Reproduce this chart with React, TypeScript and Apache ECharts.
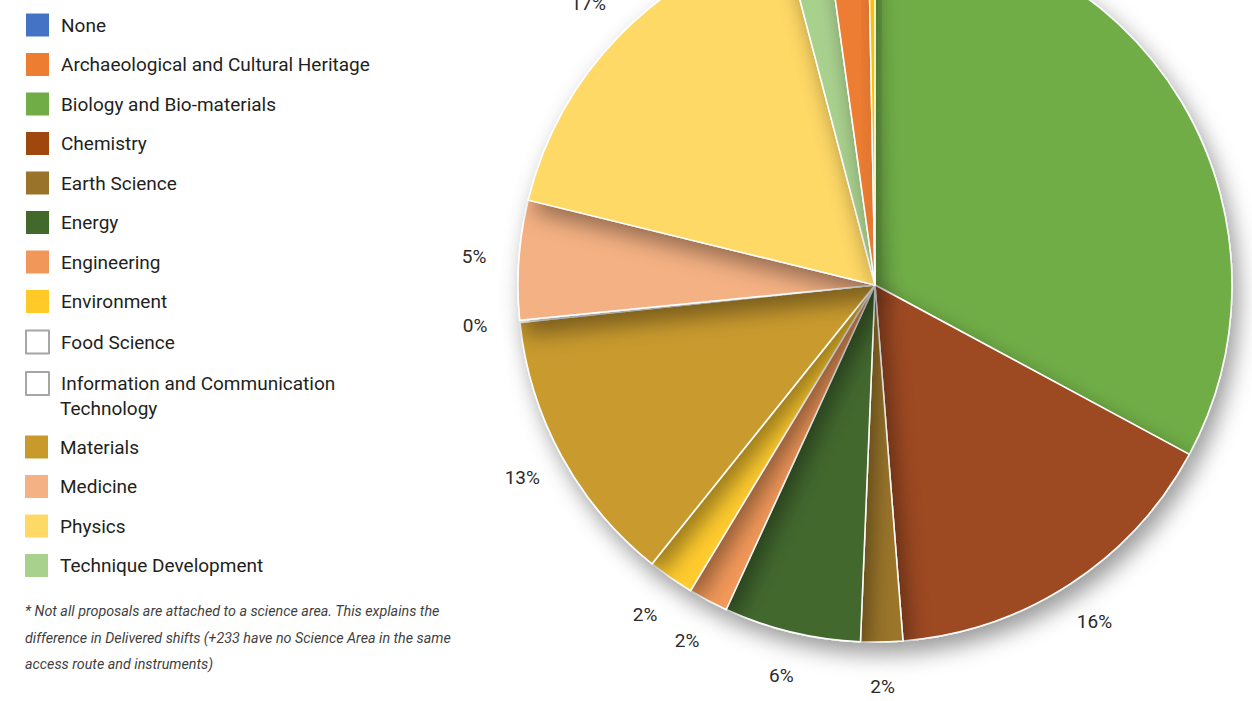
import React, { useEffect, useRef } from "react";
import * as echarts from "echarts";

// Pie data in clockwise order from 12 o'clock (percent of delivered shifts)
const sliceNames = [
  "Biology and Bio-materials",
  "Chemistry",
  "Earth Science",
  "Energy",
  "Engineering",
  "Environment",
  "Food Science",
  "Materials",
  "Information and Communication Technology",
  "Medicine",
  "Physics",
  "Technique Development",
  "Archaeological and Cultural Heritage",
  "None",
];
const sliceValues = [32.9, 15.9, 1.9, 6.2, 1.8, 2.1, 0, 12.6, 0.1, 5.4, 17.1, 1.9, 1.9, 0.3];
const sliceColors = [
  "#70AD47", "#9D4823", "#9A742C", "#43682E", "#F2985A", "#FFCB2E", "#FFFFFF",
  "#C99A2D", "#FFFFFF", "#F4B183", "#FFD966", "#A9D18E", "#ED7D31", "#FFC000",
];
const hiddenLabels = ["Biology and Bio-materials", "Food Science", "Technique Development", "Archaeological and Cultural Heritage", "None"];

// Legend order and swatches (split at the wrapped entry)
const legendNamesTop = [
  "None",
  "Archaeological and Cultural Heritage",
  "Biology and Bio-materials",
  "Chemistry",
  "Earth Science",
  "Energy",
  "Engineering",
  "Environment",
  "Food Science",
  "Information and Communication Technology",
];
const legendColorsTop = [
  "#4472C4", "#ED7D31", "#70AD47", "#9E480E", "#997329", "#43682B", "#F1975A",
  "#FFCA28", "#FFFFFF", "#FFFFFF",
];
const legendNamesBottom = ["Materials", "Medicine", "Physics", "Technique Development"];
const legendColorsBottom = ["#C89A2C", "#F4B183", "#FFD966", "#A9D18E"];

const footnote = [
  "* Not all proposals are attached to a science area. This explains the",
  "difference in Delivered shifts (+233 have no Science Area in the same",
  "access route and instruments)",
];

const FONT = "Roboto, 'Noto Sans', sans-serif";
const ICT = "Information and Communication Technology";

function legendItems(names: string[], colors: string[]) {
  return names.map((n, i) => ({
    name: n,
    itemStyle:
      colors[i] === "#FFFFFF"
        ? { color: "#FFFFFF", borderColor: "#A6A6A6", borderWidth: 2 }
        : { color: colors[i], borderWidth: 0 },
  }));
}

export default function App() {
  const ref = useRef<HTMLDivElement>(null);
  useEffect(() => {
    if (!ref.current) return;
    const chart = echarts.init(ref.current, null, { renderer: "svg" });
    const data = sliceNames.map((n, i) => ({
      name: n,
      value: sliceValues[i],
      itemStyle: { color: sliceColors[i] },
    }));
    const labelData = sliceNames.map((n, i) => ({
      name: n,
      value: sliceValues[i],
      label: { show: hiddenLabels.indexOf(n) < 0 },
    }));
    const legendBase = {
      orient: "vertical",
      left: 25,
      padding: 0,
      itemWidth: 23,
      itemHeight: 23,
      itemGap: 16.5,
      icon: "rect",
      selectedMode: false,
      textStyle: {
        fontFamily: FONT,
        fontSize: 19,
        color: "#231F20",
        padding: [0, 0, 0, 7],
      },
    };
    chart.setOption({
      animation: false,
      backgroundColor: "#ffffff",
      legend: [
        {
          ...legendBase,
          top: 13.5,
          data: legendItems(legendNamesTop, legendColorsTop),
          formatter: (name: string) => (name === ICT ? "Information and Communication" : name),
        },
        {
          ...legendBase,
          top: 435.5,
          data: legendItems(legendNamesBottom, legendColorsBottom),
        },
      ],
      graphic: [
        {
          type: "text",
          left: 60,
          top: 399,
          style: {
            text: "Technology",
            font: `19px ${FONT}`,
            fill: "#231F20",
          },
        },
        {
          type: "text",
          left: 25,
          top: 598,
          style: {
            text: footnote.join("\n"),
            font: `italic 14.3px ${FONT}`,
            lineHeight: 26.5,
            fill: "#3F3F3F",
          },
        },
      ],
      series: [
        {
          type: "pie",
          center: [875, 285],
          radius: 357,
          startAngle: 90,
          clockwise: true,
          silent: true,
          avoidLabelOverlap: false,
          label: { show: false },
          labelLine: { show: false },
          itemStyle: {
            borderColor: "#FFFFFF",
            borderWidth: 1.5,
            shadowBlur: 22,
            shadowOffsetX: 6,
            shadowOffsetY: 11,
            shadowColor: "rgba(0,0,0,0.4)",
          },
          data,
        },
        {
          type: "pie",
          center: [875, 285],
          radius: [355, 443],
          startAngle: 90,
          clockwise: true,
          silent: true,
          avoidLabelOverlap: false,
          itemStyle: { color: "rgba(0,0,0,0)", borderWidth: 0 },
          label: {
            show: true,
            position: "inside",
            fontFamily: FONT,
            fontSize: 19,
            color: "#2B2B2B",
            formatter: (p: any) => Math.round(p.percent) + "%",
          },
          labelLine: { show: false },
          data: labelData,
        },
      ],
    });
    return () => chart.dispose();
  }, []);
  return (
    <div
      ref={ref}
      style={{ position: "fixed", left: 0, top: 0, width: 1252, height: 701, background: "#fff" }}
    />
  );
}
